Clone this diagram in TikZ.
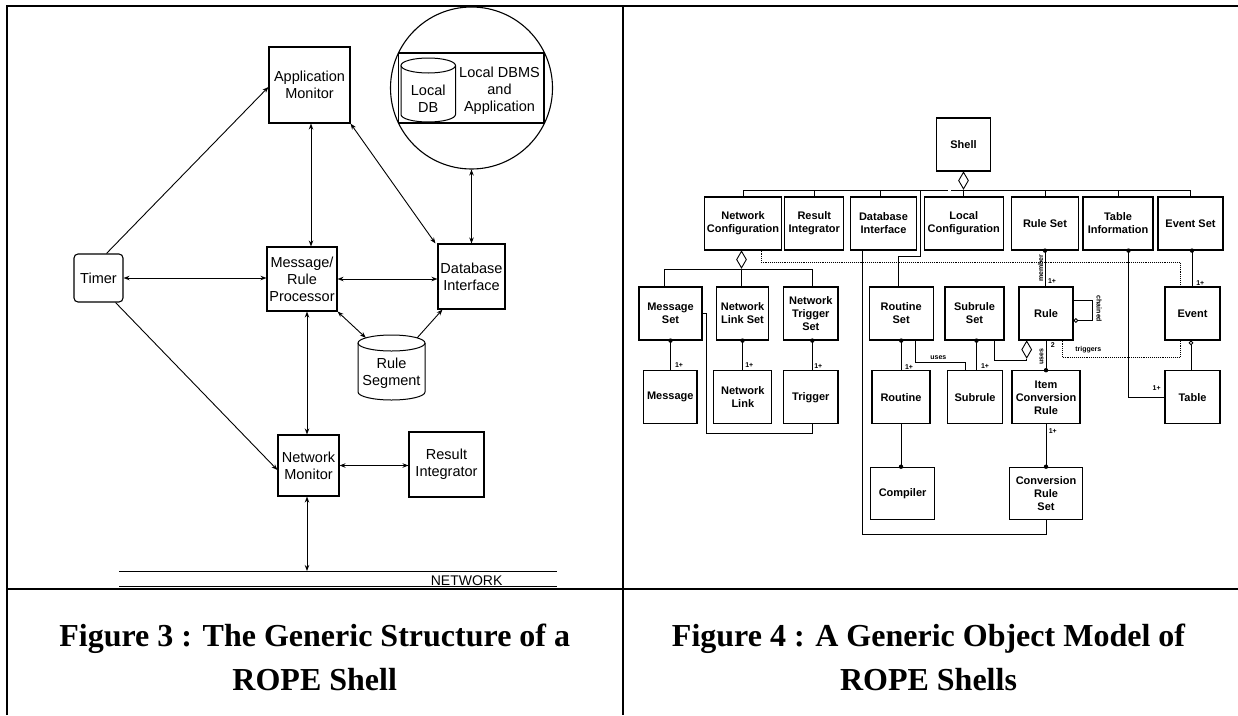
\documentclass[tikz,border=0pt]{standalone}
\usepackage{fontspec}
\setmainfont{Liberation Serif}
\setsansfont{Liberation Sans}
\usetikzlibrary{arrows.meta,shapes.geometric,calc}
\begin{document}
\begin{tikzpicture}[x=1pt,y=-1pt,
  fbox/.style={draw,line width=1.1pt,inner sep=0pt,align=center,font=\fontsize{14.5}{17}\selectfont\sffamily},
  ftext/.style={inner sep=0pt,align=center,font=\fontsize{14.5}{17}\selectfont\sffamily},
  rbox/.style={draw,line width=1.2pt,inner sep=0pt,align=center,font=\fontsize{11}{13}\selectfont\sffamily\bfseries},
  lbl/.style={inner sep=0.3pt,font=\fontsize{7}{8}\selectfont\sffamily\bfseries},
  conn/.style={line width=0.9pt},
  ar/.style={line width=0.9pt,-{Stealth[length=6pt,width=4.5pt]}},
  dar/.style={line width=0.9pt,{Stealth[length=6pt,width=4.5pt]}-{Stealth[length=6pt,width=4.5pt]}},
  agg/.style={diamond,draw,line width=0.9pt,fill=white,inner sep=0pt,minimum width=10pt,minimum height=17pt,anchor=north},
  capt/.style={anchor=base,inner sep=0pt,font=\fontsize{32}{44}\selectfont\bfseries},
  dotc/.style={radius=2.2pt}
]
\useasboundingbox (0,0) rectangle (1238,715);
% frame
\draw[line width=2.4pt] (7,715) -- (7,6) -- (1238,6);
\draw[line width=2.4pt] (622.7,6) -- (622.7,715);
\draw[line width=2.4pt] (7,589) -- (1238,589);

% ---------------- Figure 3 ----------------
\node[fbox,minimum width=81pt,minimum height=76pt] (appmon) at (309.5,85) {Application\\Monitor};
\node[fbox,minimum width=70pt,minimum height=64pt] (msg) at (302,279) {Message/\\Rule\\Processor};
\node[fbox,minimum width=67pt,minimum height=65pt] (dbi) at (471.5,276.5) {Database\\Interface};
\node[fbox,rounded corners=4pt,minimum width=49pt,minimum height=48pt] (timer) at (98.5,278) {Timer};
\node[fbox,minimum width=61pt,minimum height=61pt] (netmon) at (308.5,465.5) {Network\\Monitor};
\node[fbox,minimum width=75pt,minimum height=65pt] (resint) at (446.5,464.5) {Result\\Integrator};
\node[circle,draw,line width=1.1pt,minimum size=162pt,inner sep=0pt] (dbms) at (471.5,88) {};
\node[draw,line width=1.1pt,minimum width=145.4pt,minimum height=70pt,inner sep=0pt] (dbmsbox) at (471.3,88) {};
% Local DB cylinder
\draw[line width=1pt] (401,65.5) -- (401,114.5) arc[start angle=180,end angle=360,x radius=27.25pt,y radius=7.5pt] -- (455.5,65.5);
\draw[line width=1pt] (428.25,65.5) ellipse[x radius=27.25pt,y radius=7.5pt];
\node[ftext] (localdb) at (428.25,99) {Local\\DB};
\node[ftext] (dbmstext) at (499.5,91) {Local DBMS\\and\\Application};
% Rule segment cylinder
\node[inner sep=0pt,minimum width=67pt,minimum height=65pt] (ruleseg) at (391.5,367.5) {};
\draw[line width=1pt] (358,343) -- (358,392) arc[start angle=180,end angle=360,x radius=33.5pt,y radius=8pt] -- (425,343);
\draw[line width=1pt] (391.5,343) ellipse[x radius=33.5pt,y radius=8pt];
\node[ftext] (rstext) at (391.5,373) {Rule\\Segment};
% network
\draw[line width=1pt] (119,571) -- (557,571);
\draw[line width=1pt] (119,586) -- (557,586);
\coordinate (net) at (307,571);
\node[inner sep=0pt,anchor=base,font=\fontsize{14}{16}\selectfont\sffamily] (nettext) at (466.6,585) {NETWORK};

% arrows
\draw[ar] ([xshift=8pt]timer.north) -- ([yshift=-2pt]appmon.west);
\draw[dar] ([xshift=1.5pt]appmon.south) -- ([xshift=1.5pt]appmon.south |- msg.north);
\draw[dar] (appmon.south east) -- ([xshift=-2pt]dbi.north west);
\draw[dar] (dbms.south) -- (dbms.south |- dbi.north);
\draw[dar] (timer.east) -- (timer.east -| msg.west);
\draw[dar] (msg.east) -- (msg.east -| dbi.west);
\draw[dar] (msg.south east) -- ([xshift=8pt,yshift=-3pt]ruleseg.north west);
\draw[ar] ([xshift=-8pt,yshift=-3pt]ruleseg.north east) -- ([xshift=5pt]dbi.south west);
\draw[dar] ([xshift=5pt]msg.south) -- ([xshift=5pt]msg.south |- netmon.north);
\draw[ar] ([xshift=-8pt]timer.south east) -- ([yshift=-4.5pt]netmon.west);
\draw[dar] (netmon.east) -- (netmon.east -| resint.west);
\draw[dar] ([xshift=-1.5pt]netmon.south) -- (net);

% ---------------- Figure 4 ----------------
\node[rbox,minimum width=54pt,minimum height=53pt] (shell) at (963.5,144.5) {Shell};
% row 1
\node[rbox,minimum width=77pt,minimum height=53pt] (netconf) at (743,223.5) {Network\\Configuration};
\node[rbox,minimum width=59pt,minimum height=53pt] (resint2) at (814.3,223.5) {Result\\Integrator};
\node[rbox,minimum width=66pt,minimum height=53pt] (dbint) at (883.5,223.5) {Database\\Interface};
\node[rbox,minimum width=79pt,minimum height=53pt] (localconf) at (963.7,223.5) {Local\\Configuration};
\node[rbox,minimum width=67pt,minimum height=53pt] (ruleset) at (1045,223.5) {Rule Set};
\node[rbox,minimum width=70pt,minimum height=53pt] (tableinfo) at (1118,223.5) {Table\\Information};
\node[rbox,minimum width=65pt,minimum height=53pt] (eventset) at (1190.5,223.5) {Event Set};
% row 2
\node[rbox,minimum width=63pt,minimum height=53pt] (msgset) at (670.5,313.5) {Message\\Set};
\node[rbox,minimum width=52.4pt,minimum height=53pt] (nlinkset) at (742.5,313.5) {Network\\Link Set};
\node[rbox,minimum width=54.4pt,minimum height=53pt] (ntrigset) at (810.8,313.5) {Network\\Trigger\\Set};
\node[rbox,minimum width=64pt,minimum height=53pt] (routineset) at (901.2,313.5) {Routine\\Set};
\node[rbox,minimum width=59pt,minimum height=53pt] (subruleset) at (974.5,313.5) {Subrule\\Set};
\node[rbox,minimum width=54pt,minimum height=53pt] (rule) at (1046,313.5) {Rule};
\node[rbox,minimum width=55pt,minimum height=53pt] (event) at (1192.5,313.5) {Event};
% row 3
\node[rbox,minimum width=53.4pt,minimum height=53pt] (message) at (670.3,397.3) {Message};
\node[rbox,minimum width=58pt,minimum height=53pt] (nlink) at (742.8,397.3) {Network\\Link};
\node[rbox,minimum width=54.4pt,minimum height=53pt] (trigger) at (810.8,397.3) {Trigger};
\node[rbox,minimum width=58pt,minimum height=53pt] (routine) at (901,397.3) {Routine};
\node[rbox,minimum width=55.4pt,minimum height=53pt] (subrule) at (975,397.3) {Subrule};
\node[rbox,minimum width=68pt,minimum height=53pt] (icr) at (1046,397.3) {Item\\Conversion\\Rule};
\node[rbox,minimum width=55pt,minimum height=53pt] (table) at (1192.5,397.3) {Table};
% row 4
\node[rbox,minimum width=64pt,minimum height=52pt] (compiler) at (902.6,493.3) {Compiler};
\node[rbox,minimum width=73pt,minimum height=52pt] (crs) at (1046,493.3) {Conversion\\Rule\\Set};

% shell aggregation
\node[agg] (d1) at (shell.south) {};
\coordinate (b1) at (965,190);
\coordinate (gapL) at (948,190);
\coordinate (gapR) at (951,190);
\draw[conn] (netconf.north) |- (gapL);
\draw[conn] (gapR) -| (eventset.north);
\draw[conn] (d1.south) -- (d1.south |- localconf.north);
\foreach \n in {resint2,ruleset,tableinfo} \draw[conn] (\n.north) -- (\n.north |- b1);
\draw[conn] ([xshift=-3.5pt]dbint.north) -- ([xshift=-3.5pt]dbint.north |- b1);
\coordinate (k1) at (920.5,190);
\draw[conn] (k1) -- ++(0,66) -| ([xshift=-3pt]routineset.north);

% network configuration aggregation
\node[agg] (d2) at ([xshift=-1.5pt]netconf.south) {};
\coordinate (b2) at (741.5,269.3);
\draw[conn] ([xshift=-6pt]msgset.north) |- (b2) -| ([xshift=1.5pt]ntrigset.north);
\draw[conn] (d2.south) -- (d2.south |- nlinkset.north);
\draw[conn,densely dotted] ([xshift=18pt]netconf.south) -- ++(0,11.7) -| ([xshift=-12.5pt]event.north);

% one-to-many links with dots
\draw[conn] (msgset.south) -- (msgset.south |- message.north);
\fill (msgset.south) circle[dotc];
\node[lbl] (l1) at (679,365.5) {1+};
\draw[conn] (nlinkset.south) -- (nlinkset.south |- nlink.north);
\fill (nlinkset.south) circle[dotc];
\node[lbl] (l2) at (749.3,365.5) {1+};
\draw[conn] ([xshift=1.5pt]ntrigset.south) -- ([xshift=1.5pt]ntrigset.south |- trigger.north);
\fill ([xshift=1.5pt]ntrigset.south) circle[dotc];
\node[lbl] (l3) at (818.3,366) {1+};
\draw[conn] (msgset.east) -- ++(4,0) -- ++(0,120) -| ([xshift=1.5pt]trigger.south);

\draw[conn] (routineset.south) -- (routineset.south |- routine.north);
\fill (routineset.south) circle[dotc];
\node[lbl] (l4) at (909,367.3) {1+};
\draw[conn] ([xshift=14pt]routineset.south) -- ++(0,21.7) -| ([xshift=-10pt]subrule.north);
\node[lbl] (luses1) at (938.3,357.5) {uses};
\draw[conn] ([xshift=2pt]subruleset.south) -- ([xshift=2pt]subruleset.south |- subrule.north);
\fill ([xshift=2pt]subruleset.south) circle[dotc];
\node[lbl] (l5) at (985,366) {1+};

\node[agg] (d3) at ([xshift=-19.3pt]rule.south) {};
\draw[conn] ([xshift=19.5pt]subruleset.south) |- ([yshift=-2pt]d3.south);
\draw[conn] (d3.south) -- ++(0,2);

\draw[conn] (ruleset.south) -- (ruleset.south |- rule.north);
\fill (ruleset.south) circle[dotc];
\node[lbl,rotate=90] (lmember) at (1040.5,268) {member};
\node[lbl] (l6) at (1052,280.7) {1+};

\draw[conn,-{Circle[open,length=4.5pt]}] ([yshift=13.5pt]rule.east) -- ++(18.4,0) |- ([yshift=-7pt]rule.east);
\node[lbl,rotate=-90] (lchained) at (1099,309) {chained};

\draw[conn] (rule.south) -- (rule.south |- icr.north);
\fill (rule.south |- icr.north) circle[dotc];
\node[lbl,rotate=90] (luses2) at (1041.5,356.7) {uses};
\node[lbl] (l2b) at (1052.7,345) {2};
\draw[conn,densely dotted] ([xshift=16.3pt]rule.south) -- ++(0,16.7) -| ([xshift=-12.5pt]event.south);
\node[lbl] (ltrig) at (1088.3,350) {triggers};

\draw[conn] ([xshift=-0.5pt]eventset.south -| event.north) -- ([xshift=-0.5pt]event.north);
\fill ([xshift=-0.5pt]eventset.south -| event.north) circle[dotc];
\node[lbl] (l7) at (1200.3,283.3) {1+};

\draw[conn] ([xshift=10.5pt]tableinfo.south) |- (table.west);
\fill ([xshift=10.5pt]tableinfo.south) circle[dotc];
\node[lbl] (l8) at (1156.7,388.3) {1+};
\draw[conn,{Circle[open,length=4.5pt]}-] ([xshift=-1.5pt]event.south) -- ([xshift=-1.5pt]table.north);

\draw[conn] (routine.south) -- (routine.south |- compiler.north);
\fill (routine.south |- compiler.north) circle[dotc];
\draw[conn] (icr.south) -- (crs.north);
\fill (crs.north) circle[dotc];
\node[lbl] (l9) at (1052.8,430.7) {1+};
\draw[conn] ([xshift=-21.5pt]dbint.south) -- ++(0,284) -| (crs.south);

% captions
\node[capt] (cap3a) at (314.7,646.5) {Figure 3 : The Generic Structure of a};
\node[capt] (cap3b) at (314.7,690) {ROPE Shell};
\node[capt] (cap4a) at (928.5,646.5) {Figure 4 : A Generic Object Model of};
\node[capt] (cap4b) at (928.5,690) {ROPE Shells};
\end{tikzpicture}
\end{document}
